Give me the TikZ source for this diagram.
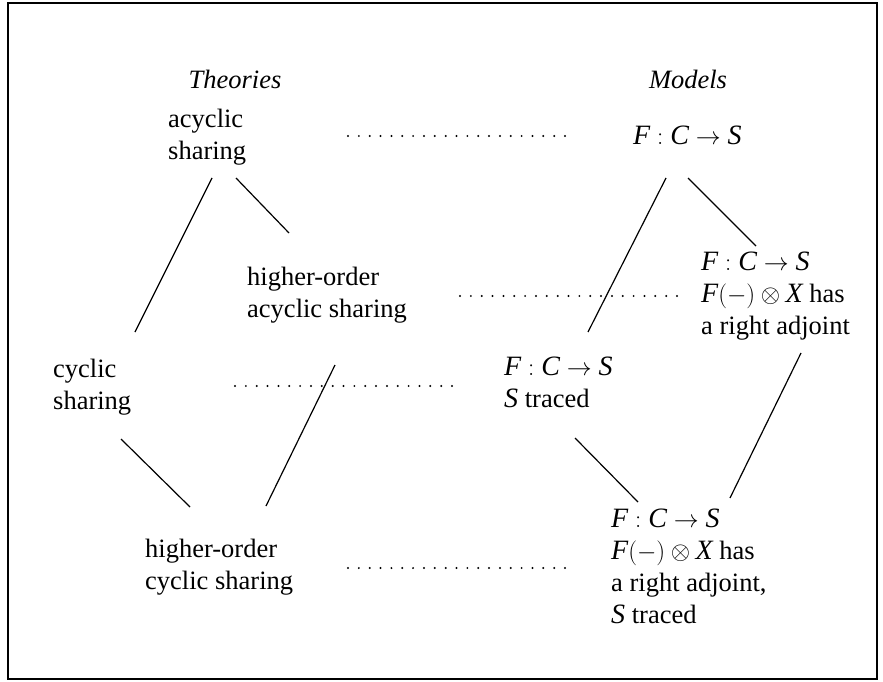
\documentclass[tikz,border=0pt]{standalone}
\usepackage{fontspec}
\setmainfont{Liberation Serif}
\begin{document}
\begin{tikzpicture}[x=1pt,y=-1pt,
  lbl/.style={inner sep=0pt,anchor=base west,font=\fontsize{26.5}{32}\selectfont},
  hdr/.style={inner sep=0pt,anchor=base,font=\fontsize{26.5}{32}\selectfont\itshape},
  edge/.style={line width=1.2pt},
  corr/.style={line width=2.2pt,line cap=round,dash pattern=on 0pt off 10.85pt}]
\useasboundingbox (0,0) rectangle (883,682);
\draw[line width=2.5pt] (8,3) rectangle (877,679);
\newcommand{\ml}[1]{\begin{tabular}[t]{@{}l@{}}#1\end{tabular}}
\newcommand{\mth}[1]{{\fontsize{28}{32}\selectfont$#1$}}
\newcommand{\fcs}{\mth{\textit{F}:\textit{C}\to\textit{S}}}
\newcommand{\fx}{\mth{\textit{F}(-)\otimes\textit{X}} has}
% headings
\node[hdr] (th) at (235,89) {Theories};
\node[hdr] (mo) at (688,89) {Models};
% theories
\node[lbl] (acs)  at (168,128) {\ml{acyclic\\sharing}};
\node[lbl] (hoas) at (247,285) {\ml{higher-order\\acyclic sharing}};
\node[lbl] (cs)   at (53,377)  {\ml{cyclic\\sharing}};
\node[lbl] (hocs) at (145,557) {\ml{higher-order\\cyclic sharing}};
% models
\node[lbl] (m1) at (633,145) {\fcs};
\node[lbl] (m2) at (701,270) {\ml{\fcs\\\fx\\a right adjoint}};
\node[lbl] (m3) at (504,375) {\ml{\fcs\\\mth{\textit{S}} traced}};
\node[lbl] (m4) at (611,527) {\ml{\fcs\\\fx\\a right adjoint,\\\mth{\textit{S}} traced}};
% connector end points
\coordinate (acsA) at (212,178); \coordinate (csA) at (135,332);
\coordinate (acsB) at (236,178); \coordinate (hoasA) at (289,233);
\coordinate (csB) at (121,439);  \coordinate (hocsA) at (190,507);
\coordinate (hoasB) at (335,365); \coordinate (hocsB) at (266,506);
\coordinate (m1A) at (666,178); \coordinate (m3A) at (588,332);
\coordinate (m1B) at (688,178); \coordinate (m2A) at (756,246);
\coordinate (m3B) at (575,438); \coordinate (m4A) at (638,502);
\coordinate (m2B) at (801,353); \coordinate (m4B) at (730,498);
\draw[edge] (acsA) -- (csA);
\draw[edge] (acsB) -- (hoasA);
\draw[edge] (csB) -- (hocsA);
\draw[edge] (hoasB) -- (hocsB);
\draw[edge] (m1A) -- (m3A);
\draw[edge] (m1B) -- (m2A);
\draw[edge] (m3B) -- (m4A);
\draw[edge] (m2B) -- (m4B);
% correspondences
\coordinate (d1a) at (348,136); \coordinate (d1b) at (565,136);
\coordinate (d2a) at (460,296); \coordinate (d2b) at (680,296);
\coordinate (d3a) at (235,386); \coordinate (d3b) at (456,386);
\coordinate (d4a) at (348,568); \coordinate (d4b) at (565,568);
\draw[corr] (d1a) -- (d1b);
\draw[corr] (d2a) -- (d2b);
\draw[corr] (d3a) -- (d3b);
\draw[corr] (d4a) -- (d4b);
\end{tikzpicture}
\end{document}
